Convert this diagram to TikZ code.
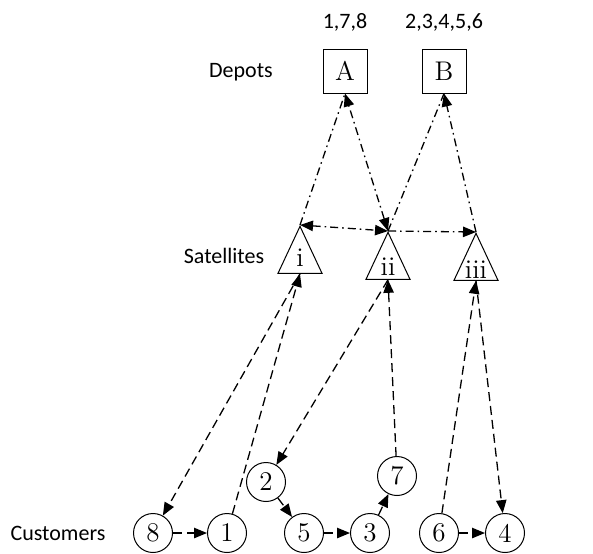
\documentclass[tikz,border=0pt]{standalone}
\usepackage{fontspec}
\newfontfamily\labelfont{Carlito}
\usetikzlibrary{arrows.meta,shapes.geometric}

\begin{document}
\begin{tikzpicture}[x=0.5pt,y=-0.5pt,
		depot/.style={draw,line width=0.5pt,minimum size=22pt,inner sep=0pt,font=\fontsize{13.5}{15}\selectfont},
		sat/.style={draw,line width=0.5pt,isosceles triangle,shape border rotate=90,isosceles triangle stretches,minimum width=22pt,minimum height=23.5pt,inner sep=0pt,font=\fontsize{13.5}{15}\selectfont},
		cust/.style={draw,circle,line width=0.5pt,minimum size=19.5pt,inner sep=0pt,font=\fontsize{13.5}{15}\selectfont},
		lab/.style={font=\labelfont\fontsize{11}{13}\selectfont},
		tip/.style={-{Triangle[length=6.5pt,width=5.2pt]}},
		tips/.style={{Triangle[length=6.5pt,width=5.2pt]}-{Triangle[length=6.5pt,width=5.2pt]}},
		upper/.style={line width=0.65pt,dash pattern=on 4pt off 2pt on 0.8pt off 2pt},
		lower/.style={line width=0.65pt,dash pattern=on 4.5pt off 2.5pt}]
	\useasboundingbox (0,0) rectangle (593,553);
	
	% depots
	\node[depot] (A) at (345,71) {A};
	\node[depot] (B) at (444,71) {B};
	\node[lab] (ra) at (345,22) {1,7,8};
	\node[lab] (rb) at (444,22) {2,3,4,5,6};
	\node[lab] (ldep) at (241,72) {Depots};
	
	% satellites
	\node[sat,anchor=apex] (i) at (300,225) {i};
	\node[sat,anchor=apex] (ii) at (388,231) {ii};
	\node[sat,anchor=apex] (iii) at (476,232) {iii};
	\node[lab] (lsat) at (224,256) {Satellites};
	
	% customers
	\node[cust] (c8) at (153,533) {8};
	\node[cust] (c1) at (227,533) {1};
	\node[cust] (c2) at (266,482) {2};
	\node[cust] (c5) at (304,533) {5};
	\node[cust] (c3) at (370,533) {3};
	\node[cust] (c7) at (397,476) {7};
	\node[cust] (c6) at (439,533) {6};
	\node[cust] (c4) at (505,533) {4};
	\node[lab] (lcus) at (58,533) {Customers};
	
	% first echelon
	\draw[upper] (i.apex) -- (A.south);
	\draw[upper,tips] (ii.apex) -- (A.south);
	\draw[upper] (ii.apex) -- (B.south);
	\draw[upper,tip] (iii.apex) -- (B.south);
	\draw[upper,tips] (i.apex) -- (ii.apex);
	\draw[upper,tip] (ii.apex) -- (iii.apex);
	
	% second echelon
	\draw[lower,tip] (i.south) -- (c8);
	\draw[lower,tip] (c1) -- (i.south);
	\draw[lower,tip] (ii.south) -- (c2);
	\draw[lower,tip] (c7) -- (ii.south);
	\draw[lower,tip] (c6) -- (iii.south);
	\draw[lower,tip] (iii.south) -- (c4);
	
	\draw[lower,tip] (c8) -- (c1);
	\draw[lower,tip] (c2) -- (c5);
	\draw[lower,tip] (c5) -- (c3);
	\draw[lower,tip] (c3) -- (c7);
	\draw[lower,tip] (c6) -- (c4);
\end{tikzpicture}
\end{document}
